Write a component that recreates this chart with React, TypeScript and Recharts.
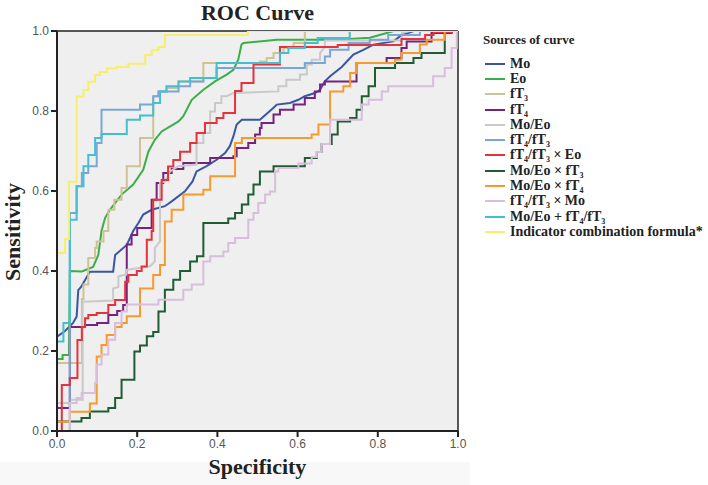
import { LineChart, Line, XAxis, YAxis, CartesianGrid, ReferenceLine } from 'recharts';

type Pt = [number, number];

// axis ticks (shared by both axes)
const ticks = [0, 0.2, 0.4, 0.6, 0.8, 1.0];

// series names, "_3" marks a subscript
const names = [
    'Mo', 'Eo', 'fT_3', 'fT_4', 'Mo/Eo', 'fT_4/fT_3', 'fT_4/fT_3 × Eo',
    'Mo/Eo × fT_3', 'Mo/Eo × fT_4', 'fT_4/fT_3 × Mo', 'Mo/Eo + fT_4/fT_3',
    'Indicator combination formula*',
];

const colors = [
    '#3a55a4', '#3cae49', '#cdc394', '#74237f', '#c9c9c9', '#79a6d8',
    '#e5323c', '#1f5c34', '#f79a2e', '#d9bddd', '#43bfd0', '#f7ee6a',
];

// [1 - specificity, sensitivity]
const mo: Pt[] = [
    [0, 0], [0, 0.236], [0.02, 0.25], [0.04, 0.27], [0.049, 0.286], [0.053, 0.352], [0.06, 0.36],
    [0.082, 0.398], [0.14, 0.398], [0.145, 0.44], [0.174, 0.465], [0.19, 0.5], [0.203, 0.52],
    [0.215, 0.541], [0.236, 0.553], [0.269, 0.562], [0.286, 0.574], [0.319, 0.599], [0.338, 0.624],
    [0.348, 0.649], [0.373, 0.662], [0.398, 0.678], [0.419, 0.695], [0.431, 0.712], [0.44, 0.737],
    [0.448, 0.766], [0.461, 0.778], [0.506, 0.778], [0.54, 0.808], [0.548, 0.816], [0.581, 0.82],
    [0.602, 0.828], [0.618, 0.837], [0.643, 0.845], [0.656, 0.853], [0.668, 0.874], [0.681, 0.887],
    [0.71, 0.91], [0.739, 0.941], [0.764, 0.953], [0.789, 0.966], [0.839, 0.974], [0.86, 0.99],
    [0.89, 1], [1, 1],
];

const eo: Pt[] = [
    [0, 0], [0, 0.18], [0.014, 0.18], [0.014, 0.19], [0.03, 0.19], [0.032, 0.4], [0.062, 0.399],
    [0.09, 0.41], [0.103, 0.44], [0.111, 0.5], [0.12, 0.533], [0.132, 0.553], [0.161, 0.591],
    [0.19, 0.616], [0.215, 0.653], [0.228, 0.699], [0.244, 0.728], [0.261, 0.749], [0.303, 0.774],
    [0.315, 0.787], [0.336, 0.828], [0.365, 0.853], [0.394, 0.874], [0.423, 0.891], [0.44, 0.903],
    [0.452, 0.928], [0.46, 0.966], [0.465, 0.97], [0.548, 0.978], [0.7, 0.978], [0.78, 0.983],
    [0.84, 1], [1, 1],
];

const ft3: Pt[] = [
    [0, 0], [0, 0.17], [0.062, 0.17], [0.062, 0.33], [0.066, 0.33], [0.066, 0.366], [0.078, 0.366],
    [0.078, 0.4325], [0.095, 0.4325], [0.095, 0.4575], [0.099, 0.4575], [0.099, 0.474], [0.116, 0.474],
    [0.116, 0.5], [0.128, 0.5], [0.128, 0.553], [0.143, 0.553], [0.143, 0.578], [0.161, 0.578],
    [0.161, 0.6075], [0.174, 0.6075], [0.174, 0.6617], [0.207, 0.6617], [0.207, 0.7325], [0.24, 0.7325],
    [0.24, 0.837], [0.253, 0.837], [0.253, 0.849], [0.273, 0.849], [0.273, 0.8575], [0.303, 0.8575],
    [0.303, 0.874], [0.365, 0.874], [0.365, 0.92], [0.506, 0.92], [0.506, 0.924], [0.523, 0.924],
    [0.523, 0.9325], [0.54, 0.9325], [0.54, 0.945], [0.565, 0.945], [0.565, 0.9575], [0.59, 0.9575],
    [0.59, 0.97], [0.618, 0.97], [0.618, 1], [1, 1],
];

const ft4: Pt[] = [
    [0, 0], [0, 0.0575], [0.032, 0.0575], [0.032, 0.26], [0.07, 0.26], [0.07, 0.265], [0.1, 0.265],
    [0.1, 0.27], [0.128, 0.27], [0.128, 0.29], [0.15, 0.29], [0.15, 0.3], [0.165, 0.3], [0.165, 0.315],
    [0.174, 0.315], [0.174, 0.466], [0.186, 0.466], [0.186, 0.49], [0.2, 0.49], [0.2, 0.5075],
    [0.236, 0.5075], [0.236, 0.578], [0.2485, 0.578], [0.2485, 0.62], [0.265, 0.62], [0.265, 0.645],
    [0.286, 0.645], [0.286, 0.655], [0.315, 0.655], [0.315, 0.67], [0.382, 0.67], [0.382, 0.6825],
    [0.44, 0.6825], [0.44, 0.687], [0.448, 0.687], [0.448, 0.7075], [0.477, 0.7075], [0.477, 0.72],
    [0.494, 0.72], [0.494, 0.741], [0.506, 0.741], [0.506, 0.7575], [0.51, 0.7575], [0.51, 0.77],
    [0.54, 0.77], [0.54, 0.791], [0.556, 0.791], [0.556, 0.803], [0.59, 0.803], [0.59, 0.816],
    [0.618, 0.816], [0.618, 0.8325], [0.643, 0.8325], [0.643, 0.849], [0.656, 0.849], [0.656, 0.866],
    [0.668, 0.866], [0.668, 0.874], [0.747, 0.874], [0.747, 0.92], [0.822, 0.92], [0.822, 0.9325],
    [0.859, 0.9325], [0.859, 0.9575], [0.872, 0.9575], [0.872, 0.974], [0.934, 0.974], [0.934, 0.995],
    [0.984, 0.995], [0.984, 1], [1, 1],
];

const moEo: Pt[] = [
    [0, 0], [0, 0.07], [0.032, 0.07], [0.032, 0.078], [0.064, 0.078], [0.064, 0.323], [0.14, 0.326],
    [0.14, 0.356], [0.153, 0.36], [0.153, 0.386], [0.166, 0.39], [0.174, 0.391], [0.174, 0.403],
    [0.232, 0.412], [0.244, 0.424], [0.244, 0.4575], [0.257, 0.474], [0.257, 0.62], [0.269, 0.624],
    [0.282, 0.649], [0.303, 0.662], [0.348, 0.666], [0.348, 0.72], [0.365, 0.72], [0.365, 0.745],
    [0.382, 0.745], [0.382, 0.799], [0.394, 0.799], [0.394, 0.82], [0.41, 0.82], [0.41, 0.837],
    [0.423, 0.837], [0.44, 0.845], [0.552, 0.849], [0.552, 0.862], [0.572, 0.862], [0.572, 0.878],
    [0.606, 0.878], [0.606, 0.891], [0.623, 0.891], [0.623, 0.916], [0.635, 0.916], [0.635, 0.928],
    [0.656, 0.928], [0.656, 0.945], [0.668, 0.96], [0.668, 0.976], [0.86, 0.976], [0.86, 0.995],
    [0.88, 1], [1, 1],
];

const ft4ft3: Pt[] = [
    [0, 0], [0.032, 0], [0.032, 0.545], [0.049, 0.545], [0.049, 0.612], [0.062, 0.612], [0.062, 0.645],
    [0.078, 0.645], [0.078, 0.662], [0.099, 0.662], [0.099, 0.72], [0.111, 0.72], [0.111, 0.803],
    [0.207, 0.803], [0.207, 0.816], [0.24, 0.816], [0.24, 0.837], [0.253, 0.837], [0.253, 0.849],
    [0.303, 0.849], [0.303, 0.862], [0.332, 0.862], [0.332, 0.874], [0.365, 0.874], [0.365, 0.8825],
    [0.398, 0.8825], [0.398, 0.9075], [0.618, 0.9075], [0.618, 0.92], [0.668, 0.92], [0.668, 0.936],
    [0.681, 0.936], [0.681, 0.953], [0.727, 0.953], [0.727, 0.97], [0.78, 0.97], [0.78, 0.978],
    [0.826, 0.978], [0.826, 0.99], [0.905, 0.99], [0.905, 1], [1, 1],
];

const ft4ft3Eo: Pt[] = [
    [0, 0], [0.012, 0], [0.012, 0.115], [0.032, 0.115], [0.032, 0.1325], [0.051, 0.1325], [0.051, 0.2275],
    [0.062, 0.2275], [0.062, 0.26], [0.07, 0.26], [0.07, 0.282], [0.078, 0.282], [0.078, 0.29],
    [0.099, 0.29], [0.099, 0.295], [0.128, 0.295], [0.128, 0.315], [0.145, 0.315], [0.145, 0.3275],
    [0.17, 0.3275], [0.17, 0.373], [0.178, 0.373], [0.178, 0.39], [0.199, 0.39], [0.199, 0.4],
    [0.211, 0.4], [0.211, 0.411], [0.224, 0.411], [0.224, 0.478], [0.236, 0.478], [0.236, 0.5],
    [0.24, 0.5], [0.24, 0.578], [0.261, 0.578], [0.261, 0.6275], [0.277, 0.6275], [0.277, 0.661],
    [0.29, 0.661], [0.29, 0.6775], [0.307, 0.6775], [0.307, 0.698], [0.332, 0.698], [0.332, 0.72],
    [0.348, 0.72], [0.348, 0.745], [0.369, 0.745], [0.369, 0.77], [0.398, 0.77], [0.398, 0.7825],
    [0.415, 0.7825], [0.415, 0.795], [0.444, 0.795], [0.444, 0.85], [0.46, 0.85], [0.46, 0.87],
    [0.49, 0.87], [0.49, 0.916], [0.556, 0.916], [0.556, 0.96], [0.7, 0.96], [0.7, 0.965],
    [0.859, 0.965], [0.859, 0.98], [0.918, 0.98], [0.918, 0.99], [0.939, 0.99], [0.939, 0.9975],
    [0.985, 0.9975], [0.985, 1], [1, 1],
];

const moEoFt3: Pt[] = [
    [0, 0], [0, 0.024], [0.061, 0.024], [0.061, 0.0325], [0.082, 0.0325], [0.082, 0.049], [0.128, 0.049],
    [0.128, 0.0575], [0.145, 0.0575], [0.145, 0.0825], [0.161, 0.0825], [0.161, 0.128], [0.193, 0.128],
    [0.193, 0.199], [0.207, 0.199], [0.207, 0.214], [0.224, 0.214], [0.224, 0.237], [0.24, 0.237],
    [0.24, 0.2475], [0.253, 0.2475], [0.253, 0.299], [0.269, 0.299], [0.269, 0.353], [0.29, 0.353],
    [0.29, 0.378], [0.307, 0.378], [0.307, 0.4], [0.332, 0.4], [0.332, 0.424], [0.349, 0.424],
    [0.349, 0.437], [0.365, 0.437], [0.365, 0.52], [0.427, 0.52], [0.427, 0.531], [0.444, 0.531],
    [0.444, 0.545], [0.461, 0.545], [0.461, 0.566], [0.477, 0.566], [0.477, 0.591], [0.49, 0.591],
    [0.49, 0.616], [0.506, 0.616], [0.506, 0.649], [0.54, 0.649], [0.54, 0.6617], [0.618, 0.6617],
    [0.618, 0.6825], [0.648, 0.6825], [0.648, 0.6975], [0.66, 0.6975], [0.66, 0.7175], [0.685, 0.7175],
    [0.685, 0.741], [0.7, 0.741], [0.7, 0.774], [0.731, 0.774], [0.731, 0.7825], [0.747, 0.7825],
    [0.747, 0.803], [0.76, 0.803], [0.76, 0.837], [0.777, 0.837], [0.777, 0.862], [0.793, 0.862],
    [0.793, 0.9075], [0.843, 0.9075], [0.843, 0.92], [0.889, 0.92], [0.889, 0.9325], [0.909, 0.9325],
    [0.909, 0.945], [0.967, 0.945], [0.967, 1], [1, 1],
];

const moEoFt4: Pt[] = [
    [0, 0], [0, 0.023], [0.032, 0.023], [0.032, 0.048], [0.082, 0.048], [0.082, 0.069], [0.099, 0.069],
    [0.099, 0.186], [0.111, 0.186], [0.111, 0.215], [0.124, 0.215], [0.124, 0.24], [0.145, 0.24],
    [0.145, 0.26], [0.161, 0.26], [0.161, 0.27], [0.174, 0.27], [0.174, 0.2867], [0.207, 0.2867],
    [0.207, 0.356], [0.24, 0.356], [0.24, 0.39], [0.257, 0.39], [0.257, 0.415], [0.269, 0.415],
    [0.269, 0.524], [0.286, 0.524], [0.286, 0.553], [0.315, 0.553], [0.315, 0.591], [0.365, 0.591],
    [0.365, 0.603], [0.382, 0.603], [0.382, 0.637], [0.444, 0.637], [0.444, 0.72], [0.461, 0.72],
    [0.461, 0.7325], [0.635, 0.7325], [0.635, 0.741], [0.652, 0.741], [0.652, 0.766], [0.681, 0.766],
    [0.681, 0.849], [0.714, 0.849], [0.714, 0.862], [0.731, 0.862], [0.731, 0.895], [0.747, 0.895],
    [0.747, 0.92], [0.843, 0.92], [0.843, 0.928], [0.859, 0.928], [0.859, 0.945], [0.905, 0.945],
    [0.905, 0.966], [0.922, 0.966], [0.922, 0.978], [0.967, 0.978], [0.967, 1], [1, 1],
];

const ft4ft3Mo: Pt[] = [
    [0, 0], [0.032, 0], [0.032, 0.07], [0.049, 0.07], [0.049, 0.0825], [0.0615, 0.0825], [0.0615, 0.095],
    [0.095, 0.095], [0.095, 0.12], [0.099, 0.12], [0.099, 0.166], [0.111, 0.166], [0.111, 0.191],
    [0.128, 0.191], [0.128, 0.228], [0.145, 0.228], [0.145, 0.27], [0.161, 0.27], [0.161, 0.299],
    [0.174, 0.299], [0.174, 0.316], [0.253, 0.316], [0.253, 0.328], [0.315, 0.328], [0.315, 0.353],
    [0.336, 0.353], [0.336, 0.366], [0.365, 0.366], [0.365, 0.424], [0.382, 0.424], [0.382, 0.437],
    [0.415, 0.437], [0.415, 0.449], [0.427, 0.449], [0.427, 0.47], [0.444, 0.47], [0.444, 0.4825],
    [0.477, 0.4825], [0.477, 0.528], [0.49, 0.528], [0.49, 0.545], [0.502, 0.545], [0.502, 0.57],
    [0.519, 0.57], [0.519, 0.591], [0.531, 0.591], [0.531, 0.599], [0.544, 0.599], [0.544, 0.649],
    [0.552, 0.649], [0.552, 0.6575], [0.602, 0.6575], [0.602, 0.669], [0.635, 0.669], [0.635, 0.685],
    [0.648, 0.685], [0.648, 0.6975], [0.66, 0.6975], [0.66, 0.7175], [0.681, 0.7175], [0.681, 0.778],
    [0.76, 0.778], [0.76, 0.816], [0.777, 0.816], [0.777, 0.828], [0.81, 0.828], [0.81, 0.849],
    [0.826, 0.849], [0.826, 0.862], [0.938, 0.862], [0.938, 0.887], [0.967, 0.887], [0.967, 0.9075],
    [0.984, 0.9075], [0.984, 0.9575], [0.997, 0.9575], [0.997, 1], [1, 1],
];

const moEoPlusFt4ft3: Pt[] = [
    [0, 0], [0, 0.224], [0.016, 0.224], [0.016, 0.27], [0.032, 0.27], [0.032, 0.528], [0.049, 0.528],
    [0.049, 0.612], [0.066, 0.612], [0.066, 0.662], [0.078, 0.662], [0.078, 0.69], [0.095, 0.69],
    [0.095, 0.7325], [0.111, 0.7325], [0.111, 0.7425], [0.174, 0.7425], [0.174, 0.778], [0.207, 0.778],
    [0.207, 0.789], [0.24, 0.789], [0.24, 0.82], [0.257, 0.82], [0.257, 0.849], [0.273, 0.849],
    [0.273, 0.862], [0.303, 0.862], [0.303, 0.874], [0.332, 0.874], [0.332, 0.8825], [0.398, 0.8825],
    [0.398, 0.92], [0.556, 0.92], [0.556, 0.945], [0.577, 0.945], [0.577, 0.9575], [0.618, 0.9575],
    [0.618, 0.97], [0.65, 0.97], [0.65, 0.9825], [0.73, 0.9825], [0.73, 1], [1, 1],
];

const indicator: Pt[] = [
    [0, 0], [0, 0.445], [0.02, 0.445], [0.02, 0.48], [0.03, 0.48], [0.03, 0.623], [0.049, 0.623],
    [0.049, 0.836], [0.066, 0.836], [0.066, 0.8525], [0.078, 0.8525], [0.078, 0.873], [0.095, 0.873],
    [0.095, 0.89], [0.107, 0.89], [0.107, 0.8975], [0.124, 0.8975], [0.124, 0.906], [0.149, 0.906],
    [0.149, 0.91], [0.178, 0.91], [0.178, 0.918], [0.22, 0.918], [0.22, 0.94], [0.236, 0.94],
    [0.236, 0.952], [0.253, 0.952], [0.253, 0.96], [0.269, 0.96], [0.269, 0.99], [0.476, 0.99],
    [0.476, 1], [1, 1],
];

const curves = [mo, eo, ft3, ft4, moEo, ft4ft3, ft4ft3Eo, moEoFt3, moEoFt4, ft4ft3Mo, moEoPlusFt4ft3, indicator];

const serif = '"Liberation Serif", "Times New Roman", serif';

// "fT_4/fT_3" -> fT with lowered small digits
function SubText({ text }: { text: string }) {
    const parts = text.split(/(_\d)/);
    return (
        <>
            {parts.map((p, i) =>
                p.startsWith('_')
                    ? <span key={i} style={{ fontSize: 8, position: 'relative', top: 3, lineHeight: '8px' }}>{p.slice(1)}</span>
                    : <span key={i}>{p}</span>
            )}
        </>
    );
}

function CurveLegend() {
    return (
        <div style={{ position: 'absolute', left: 483, top: 31, fontFamily: serif, fontWeight: 'bold', color: '#222' }}>
            <div style={{ fontSize: 13, height: 18, lineHeight: '18px' }}>Sources of curve</div>
            <div style={{ marginTop: 7 }}>
                {names.map((n, i) => (
                    <div key={n} style={{ display: 'flex', alignItems: 'center', height: 15.3, fontSize: 14, lineHeight: '14px', whiteSpace: 'nowrap' }}>
                        <span style={{ display: 'inline-block', width: 20, height: 2, marginLeft: 2, marginRight: 5, background: colors[i] }} />
                        <span style={{ lineHeight: '14px' }}><SubText text={n} /></span>
                    </div>
                ))}
            </div>
        </div>
    );
}

export default function App() {
    return (
        <div style={{ position: 'absolute', left: 0, top: 0, width: 708, height: 485, background: '#fff' }}>
            <svg width={708} height={485} style={{ position: 'absolute', left: 0, top: 0 }}>
                <rect x={0} y={462} width={470} height={23} fill="#f8f8f8" />
            </svg>
            <div style={{ position: 'absolute', left: 0, top: 0 }}>
                <LineChart width={708} height={485} margin={{ top: 31, right: 250, bottom: 29, left: 17 }}>
                    <CartesianGrid fill="#efefef" horizontal={false} vertical={false} />
                    <XAxis
                        type="number"
                        dataKey="x"
                        domain={[0, 1]}
                        ticks={ticks}
                        allowDataOverflow
                        height={25}
                        tickFormatter={v => Number(v).toFixed(1)}
                        tick={{ fill: '#555', fontSize: 12, fontFamily: '"Liberation Sans", Arial, sans-serif' }}
                        axisLine={{ stroke: '#222', strokeWidth: 2 }}
                        tickLine={{ stroke: '#222', strokeWidth: 2 }}
                        tickSize={6}
                    />
                    <YAxis
                        type="number"
                        dataKey="y"
                        domain={[0, 1]}
                        ticks={ticks}
                        allowDataOverflow
                        width={40}
                        tickFormatter={v => Number(v).toFixed(1)}
                        tick={{ fill: '#555', fontSize: 12, fontFamily: '"Liberation Sans", Arial, sans-serif' }}
                        axisLine={{ stroke: '#222', strokeWidth: 2 }}
                        tickLine={{ stroke: '#222', strokeWidth: 2 }}
                        tickSize={6}
                    />
                    <ReferenceLine y={1} stroke="#222" strokeWidth={1.5} />
                    <ReferenceLine x={1} stroke="#222" strokeWidth={1.5} />
                    {curves.map((pts, i) => (
                        <Line
                            key={names[i]}
                            data={pts.map(([x, y]) => ({ x, y }))}
                            dataKey="y"
                            type="linear"
                            stroke={colors[i]}
                            strokeWidth={2}
                            dot={false}
                            activeDot={false}
                            isAnimationActive={false}
                        />
                    ))}
                </LineChart>
            </div>
            <svg width={708} height={485} style={{ position: 'absolute', left: 0, top: 0, pointerEvents: 'none' }}>
                <text x={257.5} y={20} textAnchor="middle" fontFamily={serif} fontWeight="bold" fontSize={22} fill="#222">ROC Curve</text>
                <text x={257.5} y={474} textAnchor="middle" fontFamily={serif} fontWeight="bold" fontSize={22} fill="#222">Specificity</text>
                <text x={20} y={232} textAnchor="middle" fontFamily={serif} fontWeight="bold" fontSize={22} fill="#222" transform="rotate(-90, 20, 232)">Sensitivity</text>
            </svg>
            <CurveLegend />
        </div>
    );
}
